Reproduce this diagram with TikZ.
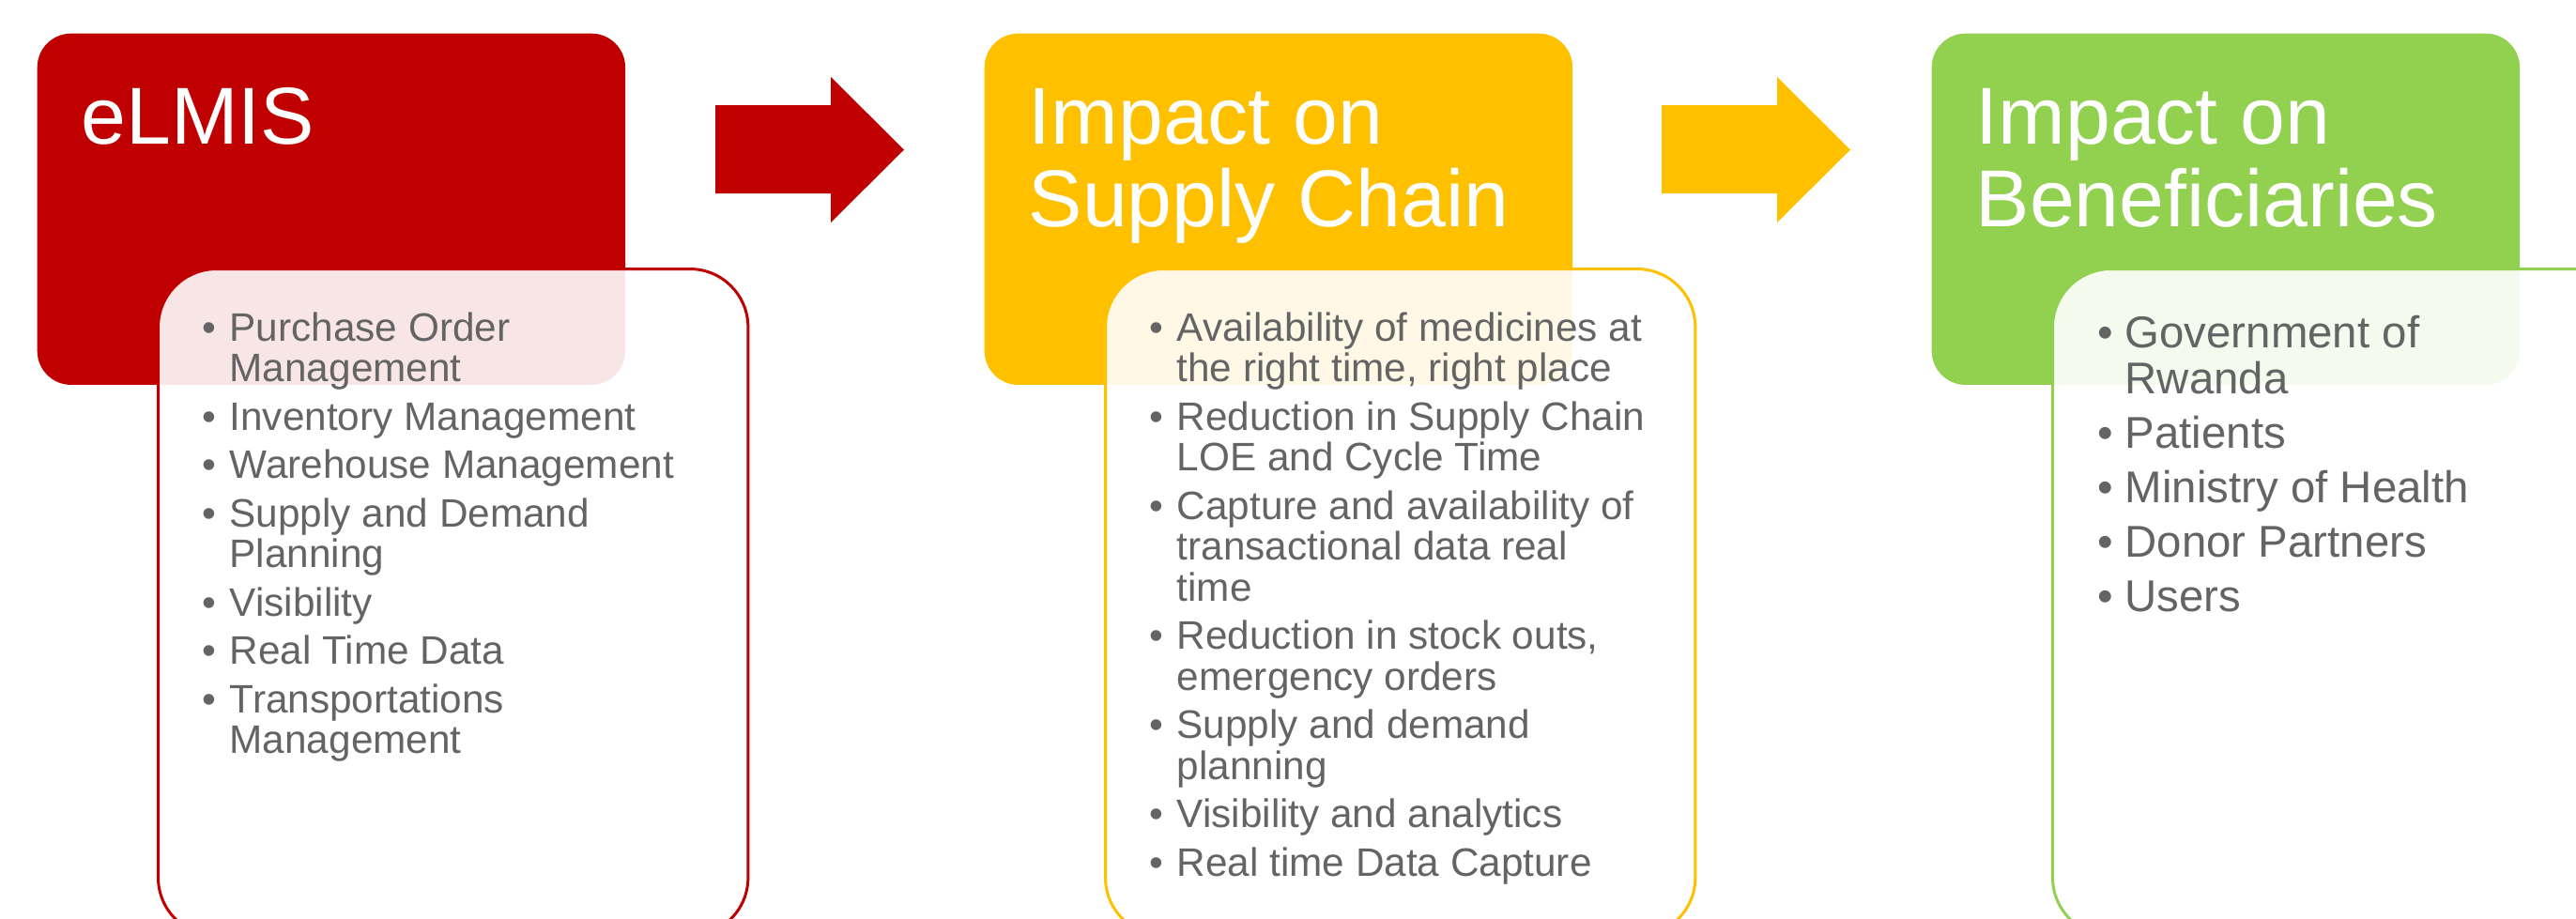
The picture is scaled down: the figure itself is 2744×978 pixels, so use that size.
\documentclass[tikz,border=0pt]{standalone}
\usepackage{fontspec}
\setmainfont{Liberation Sans}
\usetikzlibrary{positioning, calc}
\definecolor{elmisred}{HTML}{C00000}
\definecolor{chainyellow}{HTML}{FFC000}
\definecolor{benefitgreen}{HTML}{92D050}
\definecolor{bulletgray}{HTML}{646464}

% one picture unit = one pixel of the slide
\newlength\pxu
\setlength\pxu{0.01cm}
\newcommand\bitem[1]{\par\hangindent=29\pxu\hangafter=1\noindent
  \makebox[29\pxu][l]{\textbullet}#1}
\newcommand\headfont{\fontsize{86\pxu}{88\pxu}\selectfont}
\newcommand\listfont{\fontsize{42.3\pxu}{43.5\pxu}\selectfont\setlength\parskip{8\pxu}}
\newcommand\biglistfont{\fontsize{47.4\pxu}{49\pxu}\selectfont\setlength\parskip{9\pxu}}

\tikzset{
  headbox/.style={rectangle, rounded corners=0.36cm, fill=#1, inner sep=0,
    minimum width=6.26cm, minimum height=3.74cm, anchor=north west},
  listbox/.style={rectangle, rounded corners=0.62cm, draw=#1, line width=0.03cm,
    fill=white, fill opacity=0.9, inner sep=0,
    minimum width=6.28cm, minimum height=7.10cm, anchor=north west},
  headtext/.style={anchor=base west, inner sep=0, text=white},
  listtext/.style={anchor=base west, inner sep=0, text=bulletgray},
}

\begin{document}
\begin{tikzpicture}[x=0.01cm,y=-0.01cm]
  \useasboundingbox (0,0) rectangle (2744,978);
  \clip (0,0) rectangle (2744,978);

  % coloured heading boxes with the white list panels over them
  \foreach \n/\dx/\col in {elmis/0/elmisred, chain/1009/chainyellow, benef/2018/benefitgreen} {
    \node[headbox=\col] (head-\n) at (39+\dx,35) {};
    \node[listbox=\col] (list-\n) at (167+\dx,285) {};
  }

  % block arrows between the columns
  \foreach \dx/\col in {0/elmisred, 1008/chainyellow}
    \fill[\col, shift={(\dx,0)}] (762,112) -- (885,112) -- (885,82) -- (963,159.5)
      -- (885,237) -- (885,206) -- (762,206) -- cycle;

  % headings
  \node[headtext] (title-elmis) at (86,153)
    {\parbox[t]{6cm}{\raggedright\headfont eLMIS}};
  \node[headtext] (title-chain) at (1095,153)
    {\parbox[t]{6cm}{\raggedright\headfont Impact on\\Supply Chain}};
  \node[headtext] (title-benef) at (2104,153)
    {\parbox[t]{6cm}{\raggedright\headfont Impact on\\Beneficiaries}};

  % bullet lists
  \node[listtext] (items-elmis) at (215,363) {\parbox[t]{5.8cm}{\listfont
    \bitem{Purchase Order\\Management}
    \bitem{Inventory Management}
    \bitem{Warehouse Management}
    \bitem{Supply and Demand\\Planning}
    \bitem{Visibility}
    \bitem{Real Time Data}
    \bitem{Transportations\\Management}}};
  \node[listtext] (items-chain) at (1224,363) {\parbox[t]{5.8cm}{\listfont
    \bitem{Availability of medicines at\\the right time, right place}
    \bitem{Reduction in Supply Chain\\LOE and Cycle Time}
    \bitem{Capture and availability of\\transactional data real\\time}
    \bitem{Reduction in stock outs,\\emergency orders}
    \bitem{Supply and demand\\planning}
    \bitem{Visibility and analytics}
    \bitem{Real time Data Capture}}};
  \node[listtext] (items-benef) at (2234,370) {\parbox[t]{5.8cm}{\biglistfont
    \bitem{Government of\\Rwanda}
    \bitem{Patients}
    \bitem{Ministry of Health}
    \bitem{Donor Partners}
    \bitem{Users}}};
\end{tikzpicture}
\end{document}
